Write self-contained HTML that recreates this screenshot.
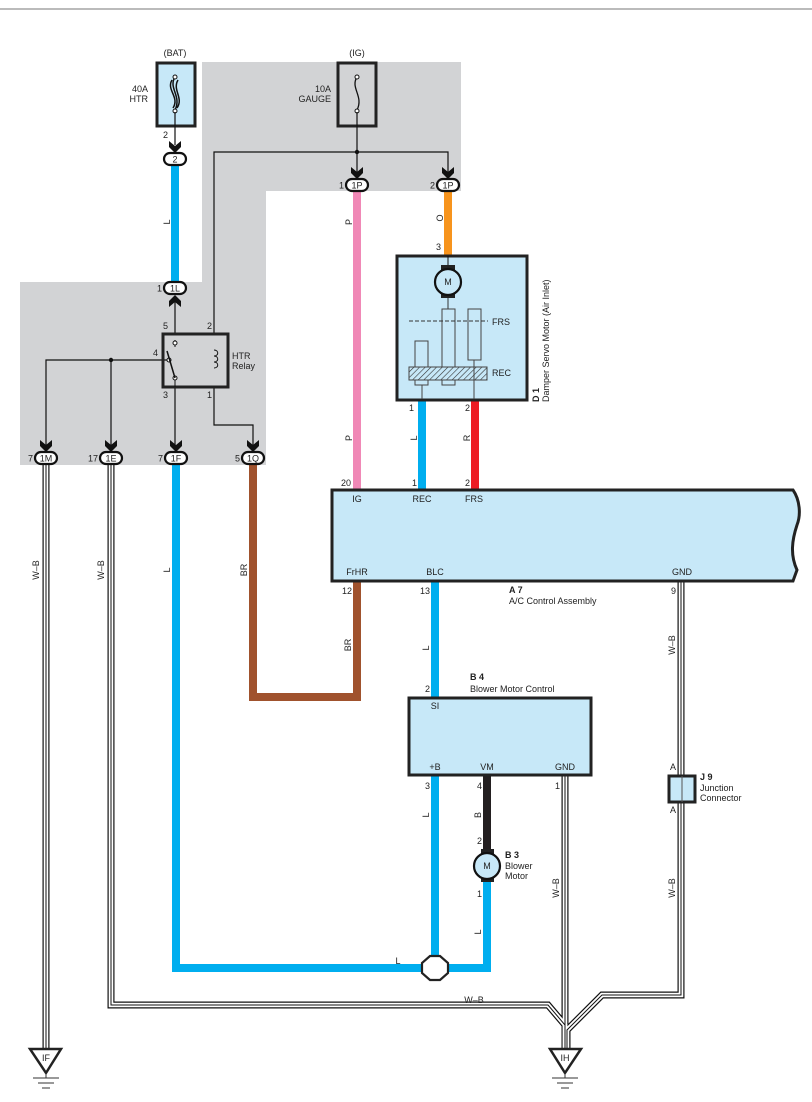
<!DOCTYPE html>
<html><head><meta charset="utf-8"><style>
html,body{margin:0;padding:0;background:#fff}
svg{display:block}
text{font-family:"Liberation Sans",sans-serif;font-size:9px;fill:#222}
</style></head><body>
<svg width="812" height="1102" viewBox="0 0 812 1102" xmlns="http://www.w3.org/2000/svg">
<defs>
<g id="chev"><path d="M-6,-10 L0,-5 L6,-10 L6,-4 L0,2 L-6,-4 Z" fill="#111"/></g>
<g id="chevup"><path d="M-6,10 L0,5 L6,10 L6,4 L0,-2 L-6,4 Z" fill="#111"/></g>
<g id="conn"><rect x="-11" y="-6" width="22" height="12" rx="6" fill="#fff" stroke="#111" stroke-width="2.2"/></g>
</defs>
<line x1="0" y1="9" x2="812" y2="9" stroke="#777" stroke-width="1"/>
<!-- gray region -->
<path d="M202,62 H461 V191 H266 V465 H20 V282 H202 Z" fill="#d2d3d5"/>
<!-- fuses -->
<rect x="157" y="63" width="38" height="63" fill="#c7e8f8" stroke="#222" stroke-width="3"/>
<path d="M175,77 C168,88 182,96 175,110 M172,80 C166,90 180,97 173,108 M178,80 C172,90 184,98 177,108" fill="none" stroke="#111" stroke-width="1.5"/>
<circle cx="175" cy="77" r="2" fill="#fff" stroke="#111"/><circle cx="175" cy="111" r="2" fill="#fff" stroke="#111"/>
<text x="175" y="56" text-anchor="middle">(BAT)</text>
<text x="148" y="92" text-anchor="end">40A</text><text x="148" y="102" text-anchor="end">HTR</text>
<rect x="338" y="63" width="38" height="63" fill="none" stroke="#222" stroke-width="3"/>
<path d="M357,77 C350,88 364,96 357,110" fill="none" stroke="#111" stroke-width="1.3"/>
<circle cx="357" cy="77" r="2" fill="#fff" stroke="#111"/><circle cx="357" cy="111" r="2" fill="#fff" stroke="#111"/>
<text x="357" y="56" text-anchor="middle">(IG)</text>
<text x="331" y="92" text-anchor="end">10A</text><text x="331" y="102" text-anchor="end">GAUGE</text>
<!-- thin black wires -->
<g stroke="#111" stroke-width="1.2" fill="none">
<line x1="175" y1="112" x2="175" y2="145"/>
<line x1="357" y1="112" x2="357" y2="175"/>
<path d="M214,334 V152 H448 V175"/>
<path d="M214,387 V425 H253 V450"/>
<line x1="175" y1="296" x2="175" y2="334"/>
<line x1="175" y1="387" x2="175" y2="450"/>
<path d="M46,450 V360 H168"/>
<line x1="111" y1="360" x2="111" y2="450"/>
</g>
<circle cx="357" cy="152" r="2.2" fill="#111"/><circle cx="111" cy="360" r="2.2" fill="#111"/>
<!-- relay -->
<rect x="163" y="334" width="65" height="53" fill="none" stroke="#222" stroke-width="3"/>
<path d="M175,340 V347 M175,377 V387" stroke="#111"/>
<circle cx="175" cy="343" r="2" fill="#fff" stroke="#111"/><circle cx="175" cy="378" r="2" fill="#fff" stroke="#111"/>
<circle cx="169" cy="360" r="2" fill="#fff" stroke="#111"/>
<line x1="167" y1="351" x2="175" y2="378" stroke="#111" stroke-width="1.5"/>
<path d="M214,350 c5,0 5,6 0,6 c5,0 5,6 0,6 c5,0 5,6 0,6" fill="none" stroke="#111"/>
<text x="232" y="359">HTR</text><text x="232" y="369">Relay</text>
<text x="168" y="329" text-anchor="end">5</text><text x="207" y="329">2</text>
<text x="158" y="356" text-anchor="end">4</text>
<text x="168" y="398" text-anchor="end">3</text><text x="207" y="398">1</text>
<!-- thick colored wires -->
<g fill="none" stroke-width="8" stroke-linejoin="miter">
<line x1="175" y1="165" x2="175" y2="282" stroke="#00aeef"/>
<line x1="357" y1="191" x2="357" y2="490" stroke="#f088b6"/>
<line x1="448" y1="191" x2="448" y2="255" stroke="#f7941d"/>
<line x1="422" y1="400" x2="422" y2="490" stroke="#00aeef"/>
<line x1="475" y1="400" x2="475" y2="490" stroke="#ed1c24"/>
<path d="M253,464 V697 H357 V581" stroke="#a0522d"/>
<path d="M176,464 V968 H428" stroke="#00aeef"/>
<path d="M442,968 H487 V880" stroke="#00aeef"/>
<line x1="435" y1="581" x2="435" y2="697" stroke="#00aeef"/>
<line x1="435" y1="775" x2="435" y2="957" stroke="#00aeef"/>
<line x1="487" y1="775" x2="487" y2="850" stroke="#231f20"/>
</g>
<!-- triple wires -->
<g fill="none" stroke-linejoin="miter">
<g id="tw">
<path d="M46,464 V1050" />
<path d="M111,464 V1005 H548 L565,1025 V1050"/>
<path d="M565,775 V1050"/>
<path d="M681,581 V775 M681,803 V995 H602 L567,1030 V1050"/>
</g>
</g>
<g fill="none" stroke="#111" stroke-width="7"><use href="#tw"/></g>
<g fill="none" stroke="#fff" stroke-width="4.6"><use href="#tw"/></g>
<g fill="none" stroke="#111" stroke-width="1"><use href="#tw"/></g>
<!-- connectors -->
<use href="#chev" x="175" y="151"/><use href="#conn" x="175" y="159"/><text x="175" y="162.5" text-anchor="middle">2</text><text x="168" y="138" text-anchor="end">2</text>
<use href="#conn" x="175" y="288"/><use href="#chevup" x="175" y="297"/><text x="175" y="291.5" text-anchor="middle">1L</text><text x="162" y="291.5" text-anchor="end">1</text>
<use href="#chev" x="357" y="177"/><use href="#conn" x="357" y="185"/><text x="357" y="188.5" text-anchor="middle">1P</text><text x="344" y="188.5" text-anchor="end">1</text>
<use href="#chev" x="448" y="177"/><use href="#conn" x="448" y="185"/><text x="448" y="188.5" text-anchor="middle">1P</text><text x="435" y="188.5" text-anchor="end">2</text>
<use href="#chev" x="46" y="450"/><use href="#conn" x="46" y="458"/><text x="46" y="461.5" text-anchor="middle">1M</text><text x="33" y="461.5" text-anchor="end">7</text>
<use href="#chev" x="111" y="450"/><use href="#conn" x="111" y="458"/><text x="111" y="461.5" text-anchor="middle">1E</text><text x="98" y="461.5" text-anchor="end">17</text>
<use href="#chev" x="176" y="450"/><use href="#conn" x="176" y="458"/><text x="176" y="461.5" text-anchor="middle">1F</text><text x="163" y="461.5" text-anchor="end">7</text>
<use href="#chev" x="253" y="450"/><use href="#conn" x="253" y="458"/><text x="253" y="461.5" text-anchor="middle">1Q</text><text x="240" y="461.5" text-anchor="end">5</text>
<!-- wire labels (rotated) -->
<g font-size="8.5">
<text transform="translate(170,222) rotate(-90)" text-anchor="middle">L</text>
<text transform="translate(352,222) rotate(-90)" text-anchor="middle">P</text>
<text transform="translate(443,218) rotate(-90)" text-anchor="middle">O</text>
<text transform="translate(352,438) rotate(-90)" text-anchor="middle">P</text>
<text transform="translate(417,438) rotate(-90)" text-anchor="middle">L</text>
<text transform="translate(470,438) rotate(-90)" text-anchor="middle">R</text>
<text transform="translate(39,570) rotate(-90)" text-anchor="middle">W–B</text>
<text transform="translate(104,570) rotate(-90)" text-anchor="middle">W–B</text>
<text transform="translate(170,570) rotate(-90)" text-anchor="middle">L</text>
<text transform="translate(247,570) rotate(-90)" text-anchor="middle">BR</text>
<text transform="translate(351,645) rotate(-90)" text-anchor="middle">BR</text>
<text transform="translate(429,648) rotate(-90)" text-anchor="middle">L</text>
<text transform="translate(675,645) rotate(-90)" text-anchor="middle">W–B</text>
<text transform="translate(429,815) rotate(-90)" text-anchor="middle">L</text>
<text transform="translate(481,815) rotate(-90)" text-anchor="middle">B</text>
<text transform="translate(481,932) rotate(-90)" text-anchor="middle">L</text>
<text transform="translate(559,888) rotate(-90)" text-anchor="middle">W–B</text>
<text transform="translate(675,888) rotate(-90)" text-anchor="middle">W–B</text>
<text x="398" y="964" text-anchor="middle">L</text>
<text x="474" y="1003" text-anchor="middle">W–B</text>
</g>
<!-- D1 -->
<rect x="397" y="256" width="130" height="144" fill="#c7e8f8" stroke="#222" stroke-width="3"/>
<text x="441" y="250" text-anchor="end">3</text>
<line x1="448" y1="256" x2="448" y2="268" stroke="#111"/>
<rect x="441" y="265" width="14" height="33" fill="#222"/>
<circle cx="448" cy="282" r="13" fill="#c7e8f8" stroke="#111" stroke-width="2.2"/>
<text x="448" y="285" text-anchor="middle">M</text>
<line x1="448" y1="298" x2="448" y2="309" stroke="#333"/>
<rect x="442" y="309" width="13" height="76" fill="#c7e8f8" stroke="#444"/>
<rect x="468" y="309" width="13" height="51" fill="#c7e8f8" stroke="#444"/>
<rect x="415" y="341" width="13" height="44" fill="#c7e8f8" stroke="#444"/>
<line x1="409" y1="321" x2="488" y2="321" stroke="#333" stroke-dasharray="4,2"/>
<defs><pattern id="hatch" width="4" height="4" patternUnits="userSpaceOnUse" patternTransform="rotate(45)"><rect width="4" height="4" fill="#c7e8f8"/><line x1="0" y1="0" x2="0" y2="4" stroke="#333" stroke-width="1.2"/></pattern></defs>
<rect x="409" y="367" width="78" height="13" fill="url(#hatch)" stroke="#444"/>
<line x1="422" y1="385" x2="422" y2="399" stroke="#444"/><line x1="474" y1="360" x2="474" y2="399" stroke="#444"/>
<text x="492" y="325">FRS</text><text x="492" y="376">REC</text>
<text x="414" y="411" text-anchor="end">1</text><text x="470" y="411" text-anchor="end">2</text>
<text transform="translate(539,402) rotate(-90)" font-weight="bold">D 1</text>
<text transform="translate(549,402) rotate(-90)">Damper Servo Motor (Air Inlet)</text>
<!-- A7 -->
<path d="M332,490 H793 C800,500 801,515 797,525 C792,540 790,555 797,570 L793,581 H332 Z" fill="#c7e8f8" stroke="#222" stroke-width="3"/>
<text x="351" y="486" text-anchor="end">20</text><text x="417" y="486" text-anchor="end">1</text><text x="470" y="486" text-anchor="end">2</text>
<text x="357" y="502" text-anchor="middle">IG</text><text x="422" y="502" text-anchor="middle">REC</text><text x="474" y="502" text-anchor="middle">FRS</text>
<text x="357" y="575" text-anchor="middle">FrHR</text><text x="435" y="575" text-anchor="middle">BLC</text><text x="682" y="575" text-anchor="middle">GND</text>
<text x="352" y="594" text-anchor="end">12</text><text x="430" y="594" text-anchor="end">13</text><text x="676" y="594" text-anchor="end">9</text>
<text x="509" y="593" font-weight="bold">A 7</text><text x="509" y="604">A/C Control Assembly</text>
<!-- B4 -->
<rect x="409" y="698" width="182" height="77" fill="#c7e8f8" stroke="#222" stroke-width="3"/>
<text x="470" y="680" font-weight="bold">B 4</text><text x="470" y="692">Blower Motor Control</text>
<text x="430" y="692" text-anchor="end">2</text>
<text x="435" y="709" text-anchor="middle">SI</text>
<text x="435" y="770" text-anchor="middle">+B</text><text x="487" y="770" text-anchor="middle">VM</text><text x="565" y="770" text-anchor="middle">GND</text>
<text x="430" y="789" text-anchor="end">3</text><text x="482" y="789" text-anchor="end">4</text><text x="560" y="789" text-anchor="end">1</text>
<!-- B3 motor -->
<text x="482" y="844" text-anchor="end">2</text><text x="482" y="897" text-anchor="end">1</text>
<rect x="481" y="849" width="13" height="33" fill="#222"/>
<circle cx="487" cy="866" r="13" fill="#c7e8f8" stroke="#111" stroke-width="2.2"/>
<text x="487" y="869" text-anchor="middle">M</text>
<text x="505" y="858" font-weight="bold">B 3</text><text x="505" y="869">Blower</text><text x="505" y="879">Motor</text>
<!-- octagon -->
<path d="M430,956 H440 L448,963 V973 L440,980 H430 L422,973 V963 Z" fill="#fff" stroke="#222" stroke-width="2.2"/>
<!-- J9 -->
<rect x="669" y="776" width="26" height="26" fill="#c7e8f8" stroke="#222" stroke-width="3"/>
<line x1="682" y1="776" x2="682" y2="802" stroke="#555"/>
<text x="676" y="770" text-anchor="end">A</text><text x="676" y="813" text-anchor="end">A</text>
<text x="700" y="780" font-weight="bold">J 9</text><text x="700" y="791">Junction</text><text x="700" y="801">Connector</text>
<!-- grounds -->
<g stroke="#222" fill="#fff">
<path d="M30,1049 H61 L46,1073 Z" stroke-width="2.5"/>
<path d="M550,1049 H581 L565,1073 Z" stroke-width="2.5"/>
</g>
<g stroke="#333" stroke-width="1">
<path d="M46,1073 V1078 M33,1078 H59 M38,1083 H54 M42,1088 H50"/>
<path d="M565,1073 V1078 M552,1078 H578 M557,1083 H573 M561,1088 H569"/>
</g>
<text x="46" y="1061" text-anchor="middle">IF</text><text x="565" y="1061" text-anchor="middle">IH</text>
</svg>
</body></html>
